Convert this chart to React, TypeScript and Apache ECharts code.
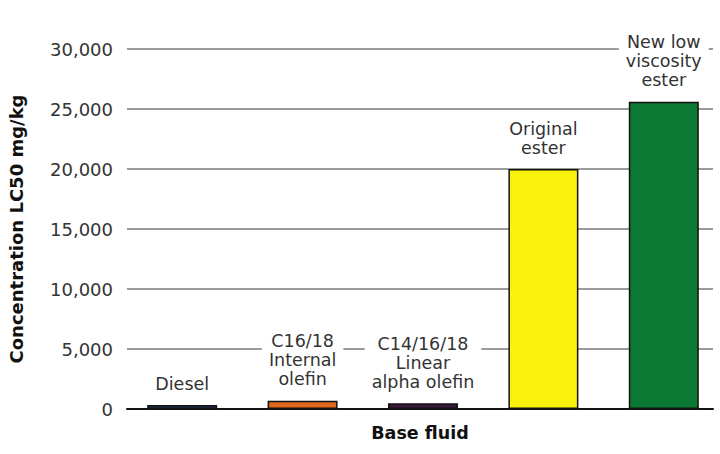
import React, { useEffect, useRef } from "react";
import * as echarts from "echarts";

const categories = [
  "Diesel",
  "C16/18\nInternal\nolefin",
  "C14/16/18\nLinear\nalpha olefin",
  "Original\nester",
  "New low\nviscosity\nester",
];
const values = [330, 680, 480, 20000, 25600];
const barColors = ["#1d3050", "#e0661c", "#3b1a38", "#f8f20c", "#0b7833"];
const yTicks = { min: 0, max: 30000, interval: 5000 };
const yAxisTitle = "Concentration LC50 mg/kg";
const xAxisTitle = "Base fluid";

const FONT = "DejaVu Sans";

export default function App() {
  const ref = useRef<HTMLDivElement>(null);
  useEffect(() => {
    if (!ref.current) return;
    const chart = echarts.init(ref.current, null, { renderer: "svg" });
    chart.setOption({
      animation: false,
      backgroundColor: "#ffffff",
      grid: [
        { left: 127, right: 7, top: 49, bottom: 45, containLabel: false, outerBoundsMode: "none" },
        { left: 122, right: -4, top: 49, bottom: 45, containLabel: false, outerBoundsMode: "none" },
      ],
      xAxis: [
        {
          gridIndex: 0,
          type: "category",
          data: categories,
          axisLabel: { show: false },
          axisTick: { show: false },
          axisLine: { lineStyle: { color: "#111", width: 2 } },
          name: xAxisTitle,
          nameLocation: "middle",
          nameGap: 15,
          nameTextStyle: { fontFamily: FONT, fontWeight: "bold", fontSize: 17.5, color: "#111" },
        },
        {
          gridIndex: 1,
          type: "category",
          data: categories,
          show: false,
        },
      ],
      yAxis: [
        {
          gridIndex: 0,
          type: "value",
          min: yTicks.min,
          max: yTicks.max,
          interval: yTicks.interval,
          axisLine: { show: false },
          axisTick: { show: false },
          axisLabel: {
            fontFamily: FONT,
            fontSize: 18,
            color: "#333",
            margin: 14,
            formatter: (v: number) => v.toLocaleString("en-US"),
          },
          splitLine: { lineStyle: { color: "#7a7a7a", width: 1.5 } },
          name: yAxisTitle,
          nameLocation: "middle",
          nameGap: 102,
          nameTextStyle: { fontFamily: FONT, fontWeight: "bold", fontSize: 18, color: "#111" },
        },
        {
          gridIndex: 1,
          type: "value",
          min: yTicks.min,
          max: yTicks.max,
          interval: yTicks.interval,
          show: false,
          splitLine: { show: false },
        },
      ],
      series: [
        {
          type: "bar",
          xAxisIndex: 1,
          yAxisIndex: 1,
          barWidth: 70,
          data: values.map((v, i) => ({
            value: v,
            itemStyle: { color: barColors[i] },
          })),
          itemStyle: { borderColor: "#111", borderWidth: 1.5 },
          label: {
            show: true,
            position: "top",
            distance: 11,
            formatter: "{b}",
            fontFamily: FONT,
            fontSize: 17.5,
            lineHeight: 19,
            color: "#333",
            backgroundColor: "#ffffff",
            padding: [1, 7],
          },
        },
      ],
    });
    return () => chart.dispose();
  }, []);
  return <div ref={ref} style={{ width: 720, height: 454, position: "fixed", left: 0, top: 0 }} />;
}
